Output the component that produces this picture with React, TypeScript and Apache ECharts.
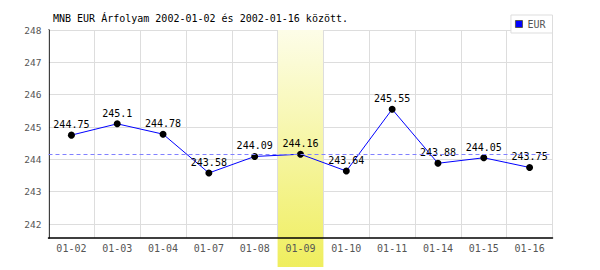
import React, { useEffect, useRef } from "react";
import * as echarts from "echarts";

const categories = ["01-02", "01-03", "01-04", "01-07", "01-08", "01-09", "01-10", "01-11", "01-14", "01-15", "01-16"];
const eurValues = [244.75, 245.1, 244.78, 243.58, 244.09, 244.16, 243.64, 245.55, 243.88, 244.05, 243.75];
const yTickValues = [242, 243, 244, 245, 246, 247, 248];
const referenceValue = 244.16;
const highlightCategory = "01-09";
const yMin = 241.57;
const yMax = 248;
const titleText = "MNB EUR Árfolyam 2002-01-02 és 2002-01-16 között.";
const seriesName = "EUR";

const FONT = "'DejaVu Sans Mono', 'Liberation Mono', monospace";

export default function App() {
  const ref = useRef<HTMLDivElement>(null);
  useEffect(() => {
    if (!ref.current) return;
    const chart = echarts.init(ref.current, null, { renderer: "svg" });
    chart.setOption({
      animation: false,
      backgroundColor: "#ffffff",
      title: {
        text: titleText,
        left: 53,
        top: 13,
        padding: 0,
        textStyle: { fontFamily: FONT, fontSize: 10, fontWeight: "normal", color: "#000" },
      },
      legend: {
        right: 47.5,
        top: 15,
        orient: "vertical",
        icon: "rect",
        itemWidth: 7,
        itemHeight: 7,
        padding: [4, 7, 4, 4],
        borderColor: "#dddddd",
        borderWidth: 1,
        backgroundColor: "#ffffff",
        textStyle: { fontFamily: FONT, fontSize: 10, color: "#555" },
        itemStyle: { borderColor: "#555", borderWidth: 1 },
        data: [{ name: seriesName, itemStyle: { color: "#0000ff", borderColor: "#555555", borderWidth: 1 } }],
      },
      grid: { left: 48.5, right: 47.5, top: 30, bottom: 32 },
      xAxis: {
        type: "category",
        data: categories,
        boundaryGap: true,
        z: 3,
        axisLine: { lineStyle: { color: "#000", width: 1.5 } },
        axisTick: { show: false },
        axisLabel: { fontFamily: FONT, fontSize: 10, color: "#555", margin: 5, interval: 0 },
        splitLine: { show: true, interval: 0, lineStyle: { color: "#dddddd", width: 1 } },
      },
      yAxis: {
        type: "value",
        min: yMin,
        max: yMax,
        z: 0,
        axisLine: { show: true, lineStyle: { color: "#000", width: 1.5 } },
        axisTick: { show: false, customValues: yTickValues },
        axisLabel: { fontFamily: FONT, fontSize: 9.5, color: "#555", margin: 7, customValues: yTickValues },
        splitLine: { show: true, lineStyle: { color: "#dddddd", width: 1 } },
      },
      series: [
        {
          name: "ref",
          type: "line",
          data: [],
          z: 1,
          silent: true,
          markLine: {
            silent: true,
            symbol: "none",
            label: { show: false },
            lineStyle: { color: "#8080ff", type: [4, 3], width: 1 },
            data: [{ yAxis: referenceValue }],
          },
        },
        {
          name: seriesName,
          type: "line",
          data: eurValues,
          z: 4,
          symbol: "circle",
          symbolSize: 7,
          lineStyle: { color: "#0000ff", width: 1 },
          itemStyle: { color: "#000" },
          label: {
            show: true,
            position: "top",
            distance: 2,
            fontFamily: FONT,
            fontSize: 10,
            color: "#000",
          },
        },
      ],
    });

    const idx = categories.indexOf(highlightCategory);
    const cx = chart.convertToPixel({ xAxisIndex: 0 }, highlightCategory) as number;
    const nx = chart.convertToPixel({ xAxisIndex: 0 }, categories[idx + 1]) as number;
    const band = nx - cx;
    const topY = chart.convertToPixel({ yAxisIndex: 0 }, yMax) as number;
    const bottomY = chart.getHeight() - 3;
    chart.setOption({
      graphic: [
        {
          type: "rect",
          z: 2,
          silent: true,
          shape: { x: cx - band / 2, y: topY, width: band, height: bottomY - topY },
          style: {
            fill: new echarts.graphic.LinearGradient(0, 0, 0, 1, [
              { offset: 0, color: "#fdfde8" },
              { offset: 1, color: "#efee5e" },
            ]),
          },
        },
      ],
    });

    return () => chart.dispose();
  }, []);
  return <div ref={ref} style={{ position: "absolute", left: 0, top: 0, width: 600, height: 270 }} />;
}
